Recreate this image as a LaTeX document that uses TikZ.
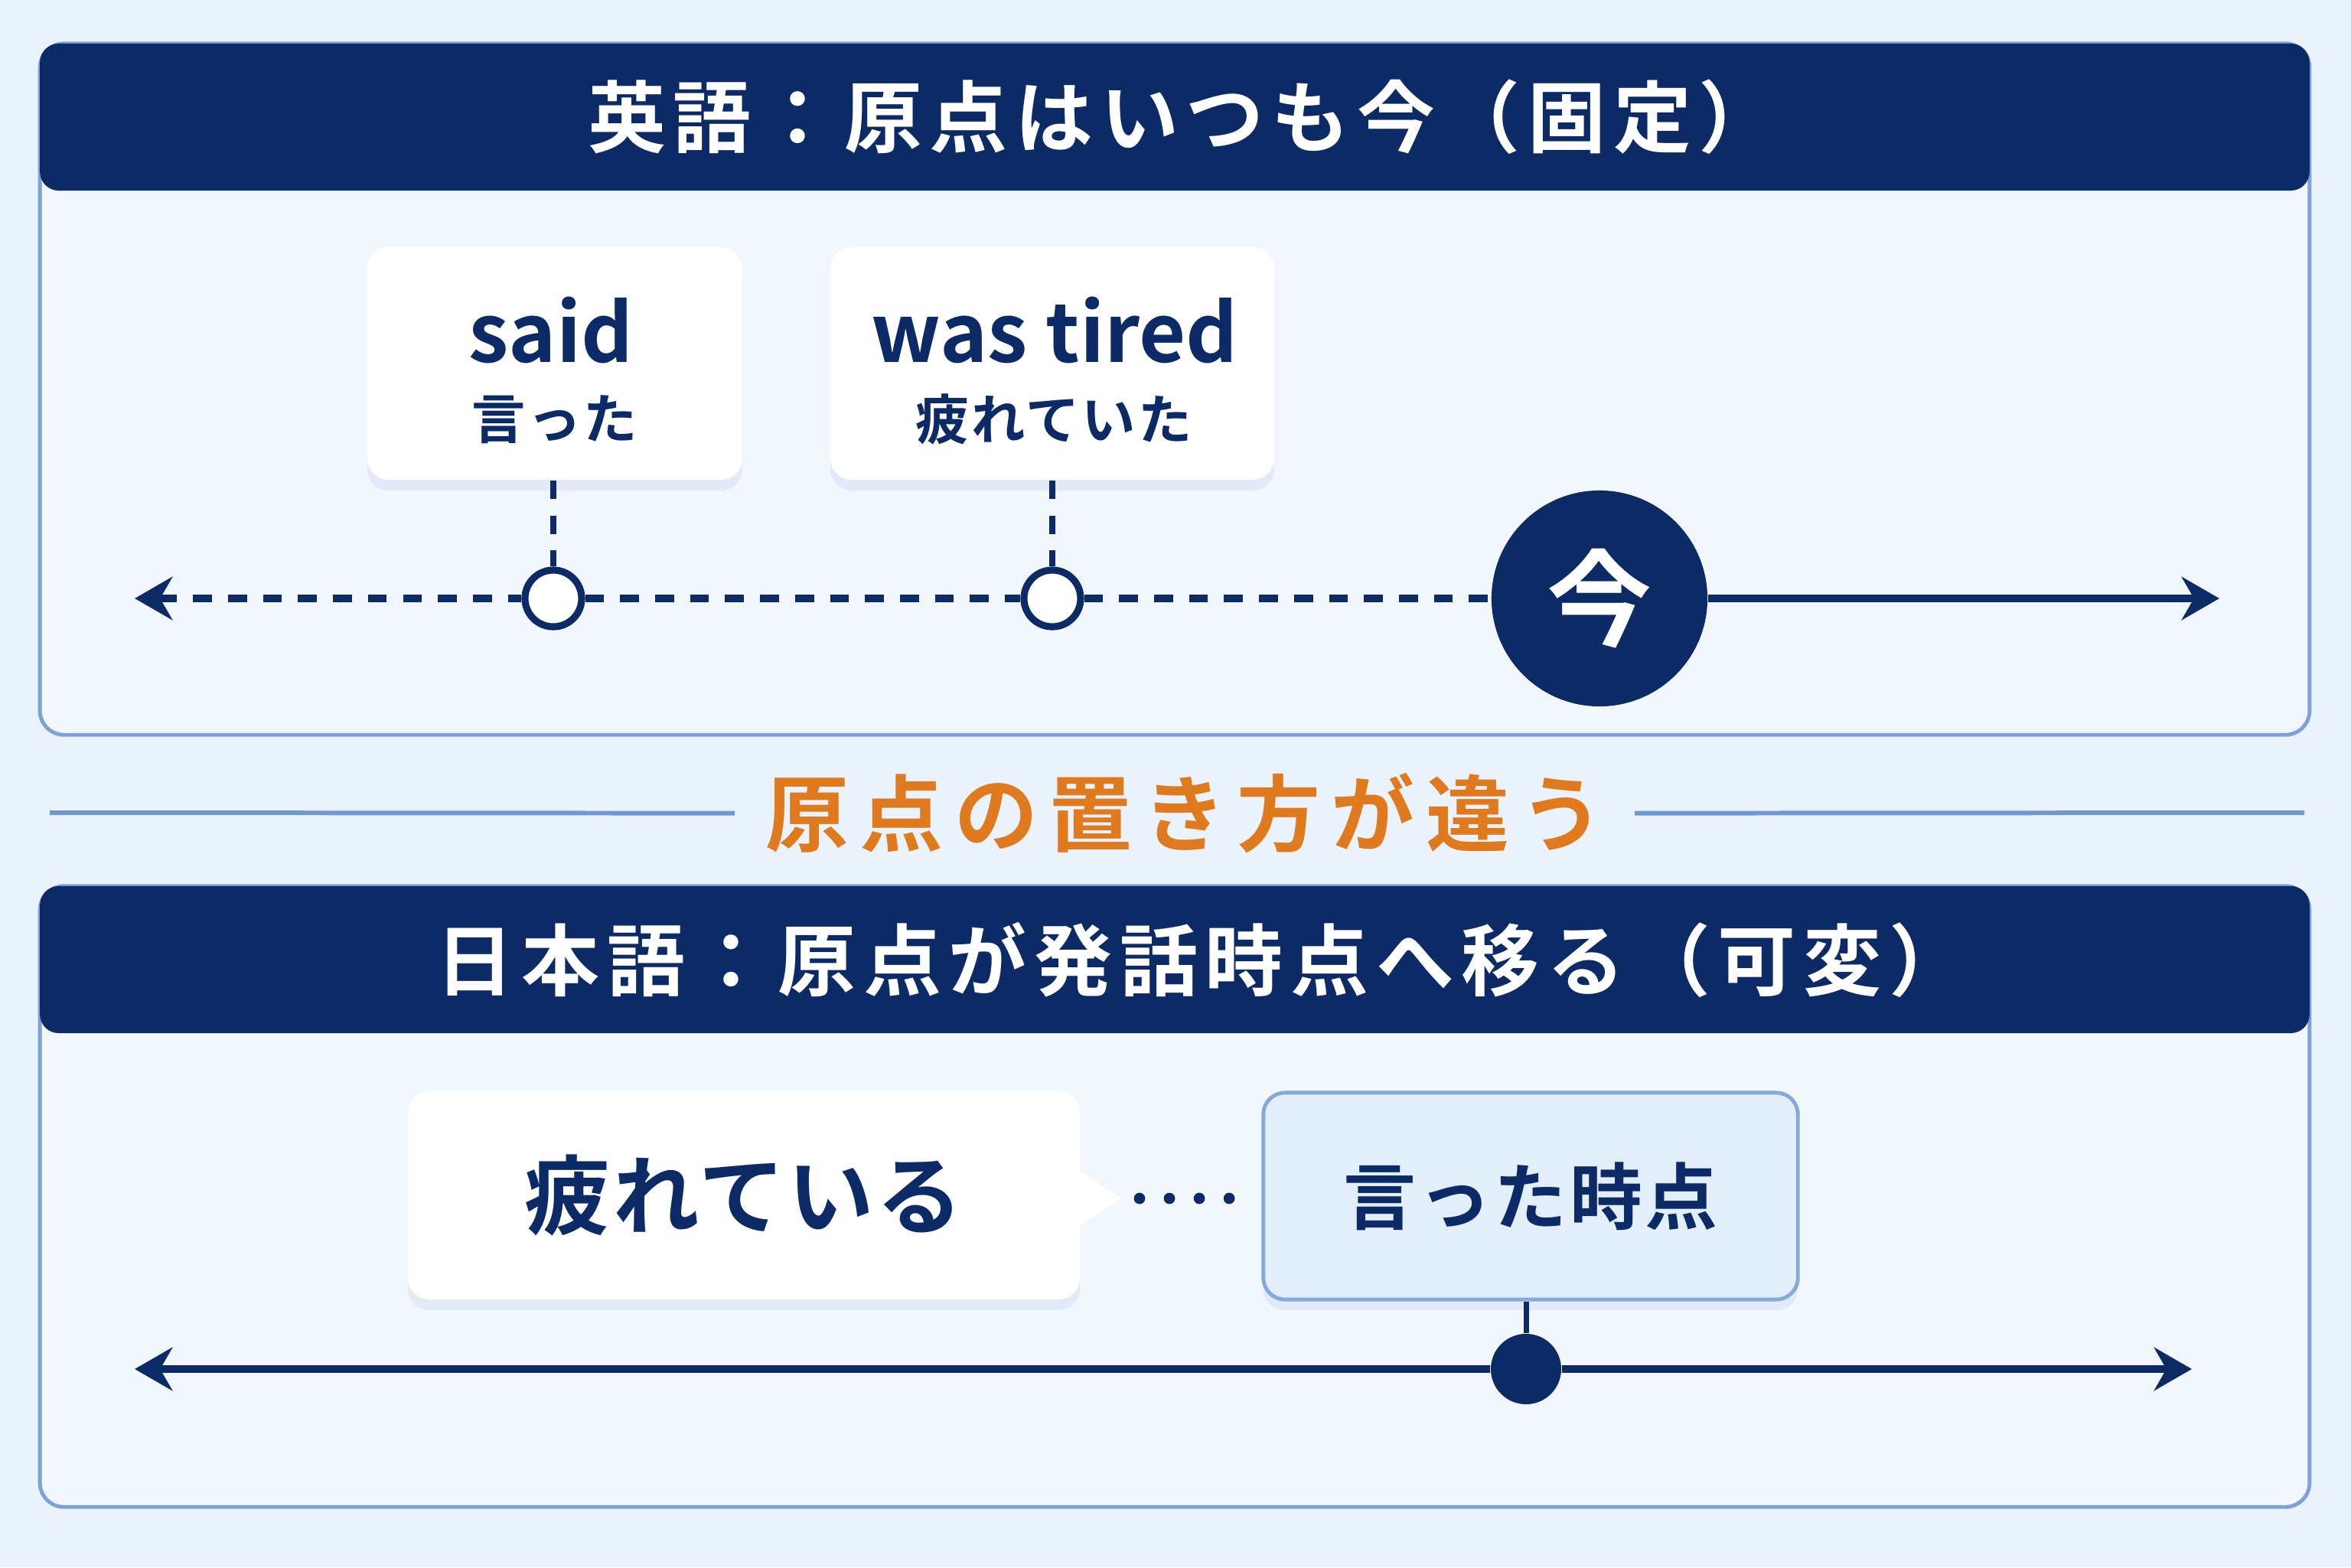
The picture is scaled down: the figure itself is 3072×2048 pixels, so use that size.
\documentclass[tikz,border=0pt]{standalone}
\usepackage{fontspec}
\newfontfamily\jpb{Noto Sans CJK JP}[UprightFont=* Bold]
\usetikzlibrary{arrows.meta,shadows}
\definecolor{navy}{RGB}{12,43,102}
\definecolor{bgc}{RGB}{234,243,252}
\definecolor{panelfill}{RGB}{241,247,253}
\definecolor{panelline}{RGB}{125,162,216}
\definecolor{orng}{RGB}{224,122,31}
\definecolor{lboxfill}{RGB}{226,238,250}
\definecolor{lboxline}{RGB}{134,169,219}
\definecolor{sepline}{RGB}{111,152,208}
\definecolor{shadowc}{RGB}{120,150,200}
\tikzset{
  panel/.style={draw=panelline, fill=panelfill, line width=1.4pt, rounded corners=9pt,
    minimum width=29.64cm, inner sep=0pt},
  hdr/.style={fill=navy, rounded corners=7pt, minimum width=29.64cm, minimum height=1.92cm,
    text=white, font=\jpb\fontsize{29}{34}\selectfont\addfontfeatures{LetterSpace=9.5}, inner sep=0pt},
  softshadow/.style={drop shadow={opacity=0.13, fill=shadowc, shadow xshift=0pt, shadow yshift=-4pt}},
  card/.style={fill=white, rounded corners=8pt, inner sep=0pt, softshadow},
  entext/.style={text=navy, font=\jpb\fontsize{30}{35}\selectfont, inner sep=0pt},
  jsmall/.style={text=navy, font=\jpb\fontsize{20}{24}\selectfont\addfontfeatures{LetterSpace=4}, inner sep=0pt},
  ocirc/.style={circle, draw=navy, fill=white, line width=2.6pt, minimum size=0.74cm, inner sep=0pt},
  nowc/.style={circle, fill=navy, minimum size=2.82cm, inner sep=0pt, text=white,
    font=\jpb\fontsize{39}{44}\selectfont},
  fdot/.style={circle, fill=navy, minimum size=0.92cm, inner sep=0pt},
  dline/.style={draw=navy, line width=2.7pt, dash pattern=on 7pt off 6pt},
  sline/.style={draw=navy, line width=2.8pt},
  lbox/.style={draw=lboxline, fill=lboxfill, line width=1.4pt, rounded corners=8pt,
    minimum width=6.98cm, minimum height=2.7cm, inner sep=0pt, text=navy,
    font=\jpb\fontsize{27}{32}\selectfont\addfontfeatures{LetterSpace=4}, softshadow},
  sep/.style={draw=sepline, line width=1.7pt},
  orangetitle/.style={text=orng, font=\jpb\fontsize{31}{36}\selectfont\addfontfeatures{LetterSpace=13},
    inner xsep=0.4cm, inner ysep=0pt}
}
\begin{document}
\begin{tikzpicture}[x=0.01cm, y=-0.01cm]
\useasboundingbox (0,0) rectangle (3072,2048);
\fill[bgc] (0,0) rectangle (3072,2048);

% ---------- top panel ----------
\node[panel, minimum height=9.03cm] (p1) at (1535,508.5) {};
\node[hdr, text width=29.64cm, align=center] (h1) at (1535,153) {\hspace*{0.2cm}英語：原点はいつも今（固定）};

\node[card, minimum width=4.9cm, minimum height=3.04cm] (said) at (725,475) {};
\node[entext] (saidE) at (720,431) {said};
\node[jsmall] (saidJ) at (725,548) {言った};

\node[card, minimum width=5.8cm, minimum height=3.04cm] (tired) at (1375,475) {};
\node[entext] (tiredE) at (1378,431) {was tired};
\node[jsmall] (tiredJ) at (1377,548) {疲れていた};

\node[ocirc] (c1) at (723,782) {};
\node[ocirc] (c2) at (1375,782) {};
\node[nowc] (now) at (2090,782) {今};
\coordinate (L1) at (176,782);
\coordinate (R1) at (2900,782);

\draw[dline, {Stealth[length=14pt, width=16pt]}-] (L1) -- (c1);
\draw[dline] (c1) -- (c2);
\draw[dline] (c2) -- (now);
\draw[sline, -{Stealth[length=14pt, width=16pt]}] (now) -- (R1);
\draw[dline, line width=2pt] (c1 |- said.south) -- (c1);
\draw[dline, line width=2pt] (c2 |- tired.south) -- (c2);

% ---------- separator ----------
\node[orangetitle] (diff) at (1548,1063) {原点の置き方が違う};
\coordinate (ml) at (65,1062);
\coordinate (mr) at (3011,1062);
\draw[sep] (ml) -- (diff);
\draw[sep] (diff) -- (mr);

% ---------- bottom panel ----------
\node[panel, minimum height=8.11cm] (p2) at (1535,1563.5) {};
\node[hdr, text width=29.64cm, align=center] (h2) at (1535,1254) {\hspace*{0.7cm}日本語：原点が発話時点へ移る（可変）};

\node[card, minimum width=8.78cm, minimum height=2.72cm,
  text=navy, font=\jpb\fontsize{32}{38}\selectfont\addfontfeatures{LetterSpace=3}] (tirednow) at (972,1562) {疲れている};
\coordinate (tip) at (1465,1566);
\fill[white] (tip) -- (1405,1526) -- (1405,1606) -- cycle;

\node[lbox] (ltime) at (2000,1563) {言った時点};
\node[fdot] (d) at (1994,1789) {};
\draw[navy, line width=2pt] (d |- ltime.south) -- (d);

\draw[navy, line width=4.2pt, line cap=round, dash pattern=on 0pt off 11.1pt,
  shorten <=0.24cm, shorten >=0.38cm] (tip) -- (ltime.west |- tip);

\coordinate (L2) at (176,1789);
\coordinate (R2) at (2864,1789);
\draw[sline, {Stealth[length=14pt, width=16pt]}-] (L2) -- (d);
\draw[sline, -{Stealth[length=14pt, width=16pt]}] (d) -- (R2);
\end{tikzpicture}
\end{document}
